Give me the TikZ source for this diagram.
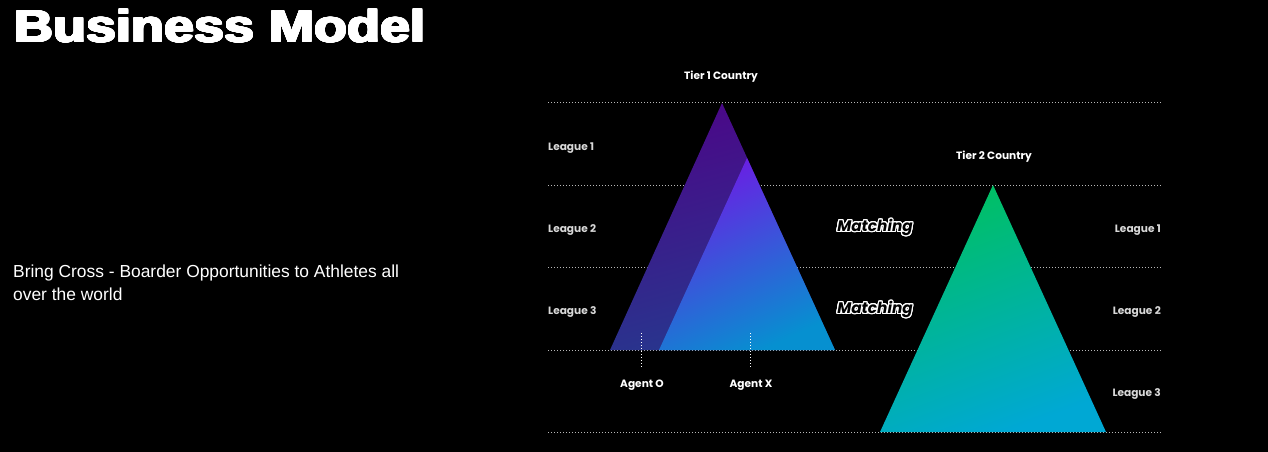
\documentclass[tikz,border=0pt]{standalone}
\usepackage{fontspec}
\setmainfont{Liberation Sans}
\newfontfamily\popf{Poppins}
\usepackage{contour}
\contourlength{0.9pt}
\contournumber{24}
\definecolor{dotgray}{HTML}{B8B8B8}
\definecolor{lblgray}{HTML}{D8D8D8}
\definecolor{backtop}{HTML}{4A0888}
\definecolor{backbot}{HTML}{26388E}
\definecolor{fronttop}{HTML}{6C1CE4}
\definecolor{frontbot}{HTML}{0690D0}
\definecolor{greentop}{HTML}{00C062}
\definecolor{greenbot}{HTML}{00A8D4}
\tikzset{
  guide/.style={dotgray, line width=0.9pt, dash pattern=on 0.9pt off 2.1pt},
  agentline/.style={white, line width=1pt, dash pattern=on 1pt off 2pt},
  small/.style={font=\popf\bfseries\fontsize{10.6}{12}\selectfont, inner sep=0pt},
  league/.style={small, text=lblgray},
  tier/.style={small, text=white},
  matchlbl/.style={inner sep=0pt, font=\popf\bfseries\itshape\fontsize{15.3}{17}\selectfont},
}
\begin{document}
\begin{tikzpicture}[x=1pt,y=-1pt]
\useasboundingbox (0,0) rectangle (1268,452);
\fill[black] (0,0) rectangle (1268,452);

% title and subtitle
\node[anchor=base west, inner sep=0pt, text=white, font=\bfseries\fontsize{45}{50}\selectfont] (title) at (14,42) {\scalebox{1.2}[1]{\contourlength{0.9pt}\contour{white}{Business Model}}};
\node[anchor=base west, inner sep=0pt, text=white, font=\fontsize{17.4}{23}\selectfont, align=left] (sub) at (13,300) {Bring Cross - Boarder Opportunities to Athletes all\\over the world};

% guide lines
\foreach \n/\y in {a/102,b/185,c/267,d/350,e/432}{
  \coordinate (L\n) at (548,\y);
  \coordinate (R\n) at (1162,\y);
  \draw[guide] (L\n) -- (R\n);
}

% tier 1 triangles
\coordinate (bapex) at (722,103);
\coordinate (bleft) at (610,350);
\coordinate (bright) at (835,350);
\coordinate (fapex) at (747,158);
\coordinate (fleft) at (659,350);
\path[top color=backtop, bottom color=backbot, shading angle=15] (bapex) -- (bleft) -- (bright) -- cycle;
\path[top color=fronttop, bottom color=frontbot, shading angle=25] (fapex) -- (fleft) -- (bright) -- cycle;

% tier 2 triangle
\coordinate (gapex) at (993,185);
\coordinate (gleft) at (880,432);
\coordinate (gright) at (1106,432);
\path[top color=greentop, bottom color=greenbot, shading angle=20] (gapex) -- (gleft) -- (gright) -- cycle;

% labels
\node[tier] (t1) at (721,77) {Tier 1 Country};
\node[tier] (t2) at (994,157) {Tier 2 Country};
\node[league, anchor=west] (l1) at (548,148) {League 1};
\node[league, anchor=west] (l2) at (548,230) {League 2};
\node[league, anchor=west] (l3) at (548,312) {League 3};
\node[league, anchor=east] (r1) at (1161,230) {League 1};
\node[league, anchor=east] (r2) at (1161,312) {League 2};
\node[league, anchor=east] (r3) at (1161,394) {League 3};
\node[matchlbl] (m1) at (875,228) {\contourlength{1.1pt}\contour{white}{\textcolor{black}{Matching}}};
\node[matchlbl] (m2) at (875,310) {\contourlength{1.1pt}\contour{white}{\textcolor{black}{Matching}}};

% agents
\node[tier] (ao) at (642,385) {Agent O};
\node[tier] (ax) at (751,385) {Agent X};
\coordinate (aot) at (641,333);
\coordinate (axt) at (750,333);
\coordinate (aob) at (641,368);
\coordinate (axb) at (750,368);
\draw[agentline] (aot) -- (aob);
\draw[agentline] (axt) -- (axb);
\end{tikzpicture}
\end{document}
